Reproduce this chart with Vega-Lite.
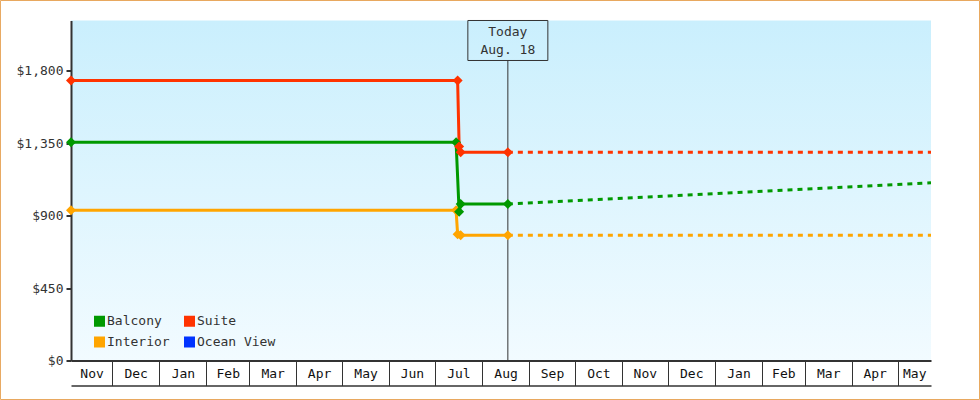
{
  "$schema": "https://vega.github.io/schema/vega-lite/v6.json",
  "width": 860,
  "height": 340,
  "autosize": {"type": "none"},
  "padding": {"left": 71, "top": 20.5, "right": 49, "bottom": 39.5},
  "background": "#ffffff",
  "config": {
    "font": "DejaVu Sans Mono",
    "view": {
      "stroke": null,
      "fill": {"gradient": "linear", "x1": 0, "y1": 0, "x2": 0, "y2": 1,
        "stops": [{"offset": 0, "color": "#caeffd"}, {"offset": 1, "color": "#f2fbff"}]}
    }
  },
  "datasets": {
    "prices": [
      {"cabin": "Interior", "date": "2017-11-04", "price": 933, "phase": "actual"},
      {"cabin": "Interior", "date": "2018-07-15", "price": 933, "phase": "actual"},
      {"cabin": "Interior", "date": "2018-07-16", "price": 784, "phase": "actual"},
      {"cabin": "Interior", "date": "2018-07-18", "price": 778, "phase": "actual"},
      {"cabin": "Interior", "date": "2018-08-18", "price": 778, "phase": "actual"},
      {"cabin": "Interior", "date": "2018-08-18", "price": 778, "phase": "forecast"},
      {"cabin": "Interior", "date": "2019-05-23", "price": 778, "phase": "forecast"},
      {"cabin": "Balcony", "date": "2017-11-04", "price": 1355, "phase": "actual"},
      {"cabin": "Balcony", "date": "2018-07-15", "price": 1355, "phase": "actual"},
      {"cabin": "Balcony", "date": "2018-07-17", "price": 924, "phase": "actual"},
      {"cabin": "Balcony", "date": "2018-07-18", "price": 972, "phase": "actual"},
      {"cabin": "Balcony", "date": "2018-08-18", "price": 972, "phase": "actual"},
      {"cabin": "Balcony", "date": "2018-08-18", "price": 972, "phase": "forecast"},
      {"cabin": "Balcony", "date": "2019-05-23", "price": 1104, "phase": "forecast"},
      {"cabin": "Suite", "date": "2017-11-04", "price": 1740, "phase": "actual"},
      {"cabin": "Suite", "date": "2018-07-16", "price": 1740, "phase": "actual"},
      {"cabin": "Suite", "date": "2018-07-17", "price": 1330, "phase": "actual"},
      {"cabin": "Suite", "date": "2018-07-18", "price": 1293, "phase": "actual"},
      {"cabin": "Suite", "date": "2018-08-18", "price": 1293, "phase": "actual"},
      {"cabin": "Suite", "date": "2018-08-18", "price": 1293, "phase": "forecast"},
      {"cabin": "Suite", "date": "2019-05-23", "price": 1293, "phase": "forecast"}
    ],
    "today": [{"date": "2018-08-18", "label": "Today\nAug. 18"}],
    "one": [{"k": 1}]
  },
  "resolve": {"scale": {"x": "shared", "y": "shared", "color": "shared"}, "axis": {"x": "independent", "y": "shared"}},
  "layer": [
    {
      "data": {"name": "prices"},
      "transform": [{"filter": "datum.phase == 'actual'"}],
      "mark": {"type": "line", "strokeWidth": 3},
      "encoding": {
        "x": {"field": "date", "type": "temporal",
          "scale": {"type": "utc", "nice": false, "domain": [{"year": 2017, "month": 11, "date": 4, "utc": true}, {"year": 2019, "month": 5, "date": 23, "utc": true}]},
          "axis": {
            "orient": "bottom",
            "values": [
              {"year": 2017, "month": 11, "date": 4, "utc": true},
              {"year": 2017, "month": 12, "date": 1, "utc": true},
              {"year": 2018, "month": 1, "date": 1, "utc": true},
              {"year": 2018, "month": 2, "date": 1, "utc": true},
              {"year": 2018, "month": 3, "date": 1, "utc": true},
              {"year": 2018, "month": 4, "date": 1, "utc": true},
              {"year": 2018, "month": 5, "date": 1, "utc": true},
              {"year": 2018, "month": 6, "date": 1, "utc": true},
              {"year": 2018, "month": 7, "date": 1, "utc": true},
              {"year": 2018, "month": 8, "date": 1, "utc": true},
              {"year": 2018, "month": 9, "date": 1, "utc": true},
              {"year": 2018, "month": 10, "date": 1, "utc": true},
              {"year": 2018, "month": 11, "date": 1, "utc": true},
              {"year": 2018, "month": 12, "date": 1, "utc": true},
              {"year": 2019, "month": 1, "date": 1, "utc": true},
              {"year": 2019, "month": 2, "date": 1, "utc": true},
              {"year": 2019, "month": 3, "date": 1, "utc": true},
              {"year": 2019, "month": 4, "date": 1, "utc": true},
              {"year": 2019, "month": 5, "date": 1, "utc": true}
            ],
            "format": "%b",
            "domain": true, "domainColor": "#333333", "domainWidth": 2,
            "ticks": true, "tickSize": 25, "tickColor": "#333333", "tickWidth": 1,
            "tickOpacity": {"condition": {"test": "utcyear(datum.value) == 2017 && utcmonth(datum.value) == 10", "value": 0}, "value": 1},
            "labelOffset": {"condition": [
              {"test": "utcyear(datum.value) == 2017 && utcmonth(datum.value) == 10", "value": 20.6},
              {"test": "utcyear(datum.value) == 2019 && utcmonth(datum.value) == 4", "value": 16.7},
              {"test": "utcmonth(datum.value) == 1", "value": 21.3},
              {"test": "utcmonth(datum.value) == 3 || utcmonth(datum.value) == 5 || utcmonth(datum.value) == 8 || utcmonth(datum.value) == 10", "value": 22.8}
            ], "value": 23.6},
            "labelPadding": -12.5, "labelBaseline": "middle", "labelAlign": "center",
            "labelFlush": false, "labelOverlap": false, "labelBound": false,
            "labelFont": "DejaVu Sans Mono", "labelFontSize": 13, "labelColor": "#111111",
            "grid": false, "title": null
          }},
        "y": {"field": "price", "type": "quantitative",
          "scale": {"domain": [0, 2112], "nice": false, "zero": false},
          "axis": {"values": [0, 450, 900, 1350, 1800], "format": "$,.0f", "domain": true, "domainColor": "#333333", "domainWidth": 2,
            "ticks": true, "tickSize": 5, "tickWidth": 2, "tickColor": "#333333", "labelPadding": 3,
            "labelFont": "DejaVu Sans Mono", "labelFontSize": 13, "labelColor": "#333333", "grid": false, "title": null}},
        "color": {"field": "cabin", "type": "nominal",
          "scale": {"domain": ["Balcony", "Interior", "Suite", "Ocean View"], "range": ["#009900", "#ffa500", "#ff3300", "#0033ff"]},
          "legend": {"orient": "none", "legendX": 22, "legendY": 294, "columns": 2, "symbolType": "square", "symbolSize": 121,
            "symbolStrokeWidth": 0, "symbolOpacity": 1, "labelFont": "DejaVu Sans Mono", "labelFontSize": 13, "labelColor": "#333333",
            "columnPadding": 13, "rowPadding": 7, "labelOffset": 1, "padding": 0, "title": null}}
      }
    },
    {
      "data": {"name": "one"},
      "mark": {"type": "rect", "filled": false, "stroke": "#e8a85f", "strokeWidth": 1, "clip": false},
      "encoding": {
        "x": {"datum": {"year": 2017, "month": 9, "date": 18, "hours": 16, "utc": true}, "type": "temporal",
          "scale": {"type": "utc", "nice": false, "domain": [{"year": 2017, "month": 11, "date": 4, "utc": true}, {"year": 2019, "month": 5, "date": 23, "utc": true}]},
          "axis": {"orient": "bottom", "offset": 25, "domain": true, "domainColor": "#333333", "domainWidth": 1.5, "ticks": false, "labels": false, "grid": false, "title": null}},
        "x2": {"datum": {"year": 2019, "month": 6, "date": 23, "hours": 21, "utc": true}},
        "y": {"datum": 2236.2, "type": "quantitative", "scale": {"domain": [0, 2112], "nice": false, "zero": false}},
        "y2": {"datum": -242.3}
      }
    },
    {
      "data": {"name": "today"},
      "mark": {"type": "rule", "color": "#333333", "strokeWidth": 1},
      "encoding": {
        "x": {"field": "date", "type": "temporal", "axis": null,
          "scale": {"type": "utc", "nice": false, "domain": [{"year": 2017, "month": 11, "date": 4, "utc": true}, {"year": 2019, "month": 5, "date": 23, "utc": true}]}},
        "y": {"datum": 0, "type": "quantitative", "scale": {"domain": [0, 2112], "nice": false, "zero": false}},
        "y2": {"datum": 1863.5}
      }
    },
    {
      "data": {"name": "today"},
      "mark": {"type": "point", "shape": "M-1,-0.5H1V0.5H-1Z", "size": 6400, "filled": false, "color": "#333333", "strokeWidth": 1, "opacity": 1},
      "encoding": {
        "x": {"field": "date", "type": "temporal", "axis": null,
          "scale": {"type": "utc", "nice": false, "domain": [{"year": 2017, "month": 11, "date": 4, "utc": true}, {"year": 2019, "month": 5, "date": 23, "utc": true}]}},
        "y": {"datum": 1987.8, "type": "quantitative", "scale": {"domain": [0, 2112], "nice": false, "zero": false}}
      }
    },
    {
      "data": {"name": "today"},
      "mark": {"type": "text", "lineBreak": "\n", "lineHeight": 17.5, "fontSize": 13, "color": "#333333", "align": "center", "baseline": "middle"},
      "encoding": {
        "x": {"field": "date", "type": "temporal", "axis": null,
          "scale": {"type": "utc", "nice": false, "domain": [{"year": 2017, "month": 11, "date": 4, "utc": true}, {"year": 2019, "month": 5, "date": 23, "utc": true}]}},
        "y": {"datum": 2039, "type": "quantitative", "scale": {"domain": [0, 2112], "nice": false, "zero": false}},
        "text": {"field": "label"}
      }
    },
    {
      "data": {"name": "prices"},
      "transform": [{"filter": "datum.phase == 'forecast'"}],
      "mark": {"type": "line", "strokeWidth": 3, "strokeDash": [5, 5]},
      "encoding": {
        "x": {"field": "date", "type": "temporal", "axis": null,
          "scale": {"type": "utc", "nice": false, "domain": [{"year": 2017, "month": 11, "date": 4, "utc": true}, {"year": 2019, "month": 5, "date": 23, "utc": true}]}},
        "y": {"field": "price", "type": "quantitative", "scale": {"domain": [0, 2112], "nice": false, "zero": false}},
        "color": {"field": "cabin", "type": "nominal",
          "scale": {"domain": ["Balcony", "Interior", "Suite", "Ocean View"], "range": ["#009900", "#ffa500", "#ff3300", "#0033ff"]}}
      }
    },
    {
      "data": {"name": "prices"},
      "transform": [{"filter": "datum.phase == 'actual'"}],
      "mark": {"type": "point", "shape": "diamond", "size": 100, "filled": true, "opacity": 1, "strokeWidth": 0},
      "encoding": {
        "x": {"field": "date", "type": "temporal", "axis": null,
          "scale": {"type": "utc", "nice": false, "domain": [{"year": 2017, "month": 11, "date": 4, "utc": true}, {"year": 2019, "month": 5, "date": 23, "utc": true}]}},
        "y": {"field": "price", "type": "quantitative", "scale": {"domain": [0, 2112], "nice": false, "zero": false}},
        "color": {"field": "cabin", "type": "nominal",
          "scale": {"domain": ["Balcony", "Interior", "Suite", "Ocean View"], "range": ["#009900", "#ffa500", "#ff3300", "#0033ff"]}}
      }
    }
  ]
}
